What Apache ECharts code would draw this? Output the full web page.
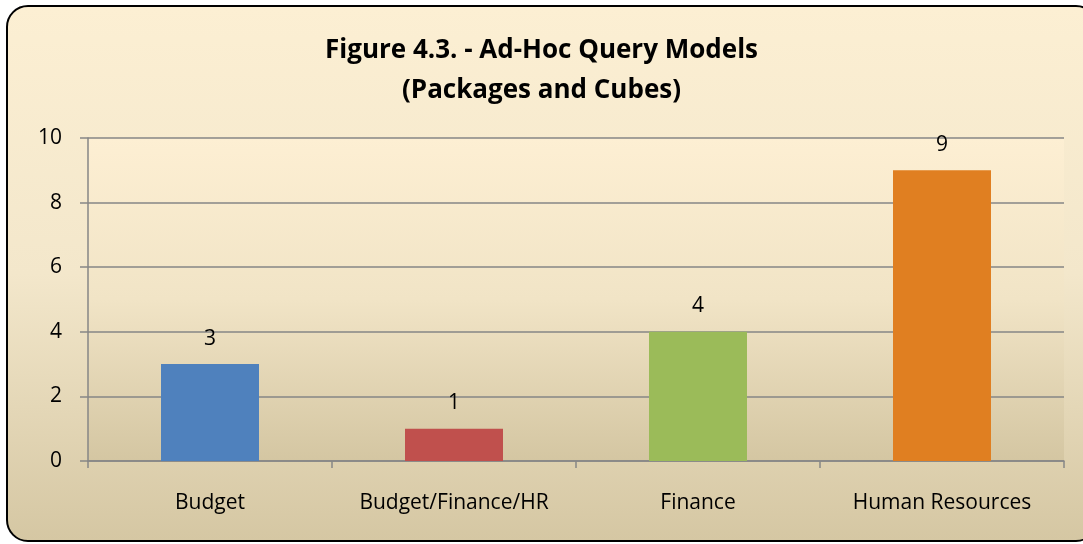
<!DOCTYPE html>
<html>
<head>
<meta charset="utf-8">
<script src="https://cdn.jsdelivr.net/npm/echarts@6/dist/echarts.min.js"></script>
<style>
  html, body { margin: 0; padding: 0; background: #fff; }
  #frame {
    position: absolute; left: 6px; top: 5px; width: 1092px; height: 537px;
    border: 2px solid #000; border-radius: 22px; box-sizing: border-box;
    background: linear-gradient(to bottom, #fcefd3 0%, #f3e7cb 50%, #d5c7a3 100%);
    overflow: hidden;
  }
  #chart { position: absolute; left: 0; top: 0; width: 1083px; height: 544px; }
</style>
</head>
<body>
<div id="frame"></div>
<div id="chart"></div>
<script>
const categories = ['Budget', 'Budget/Finance/HR', 'Finance', 'Human Resources'];
const values = [3, 1, 4, 9];
const barColors = ['#4f81bd', '#c0504d', '#9bbb59', '#e07f21'];
const yTicks = { min: 0, max: 10, interval: 2 };

const chart = echarts.init(document.getElementById('chart'), null, { renderer: 'canvas' });
const font = '"Open Sans", "DejaVu Sans", sans-serif';

chart.setOption({
  backgroundColor: 'transparent',
  animation: false,
  title: {
    text: 'Figure 4.3. - Ad-Hoc Query Models\n(Packages and Cubes)',
    left: 'center',
    top: 26,
    textStyle: {
      fontFamily: font,
      fontWeight: 'bold',
      fontSize: 26,
      lineHeight: 40,
      color: '#000'
    }
  },
  grid: {
    left: 88, right: 19, top: 138, bottom: 83,
    show: true,
    borderWidth: 0,
    backgroundColor: new echarts.graphic.LinearGradient(0, 0, 0, 1, [
      { offset: 0, color: '#fdefd3' },
      { offset: 0.5, color: '#f1e4c6' },
      { offset: 1, color: '#d4c6a2' }
    ])
  },
  xAxis: {
    type: 'category',
    data: categories,
    axisLine: { lineStyle: { color: '#868686', width: 1.5 } },
    axisTick: { show: true, length: 7, lineStyle: { color: '#868686', width: 1.5 } },
    axisLabel: { interval: 0, fontFamily: font, fontSize: 21, color: '#000', margin: 32 }
  },
  yAxis: {
    type: 'value',
    min: yTicks.min,
    max: yTicks.max,
    interval: yTicks.interval,
    axisLine: { show: true, lineStyle: { color: '#868686', width: 1.5 } },
    axisTick: { show: true, length: 8, lineStyle: { color: '#868686', width: 1.5 } },
    splitLine: { lineStyle: { color: '#868686', width: 1.5 } },
    axisLabel: { fontFamily: font, fontSize: 21, color: '#000', margin: 26 }
  },
  series: [{
    type: 'bar',
    barWidth: 98,
    data: values.map((v, i) => ({ value: v, itemStyle: { color: barColors[i] } })),
    label: {
      show: true,
      position: 'top',
      distance: 15,
      fontFamily: font,
      fontSize: 21,
      color: '#000'
    }
  }]
});
</script>
</body>
</html>
